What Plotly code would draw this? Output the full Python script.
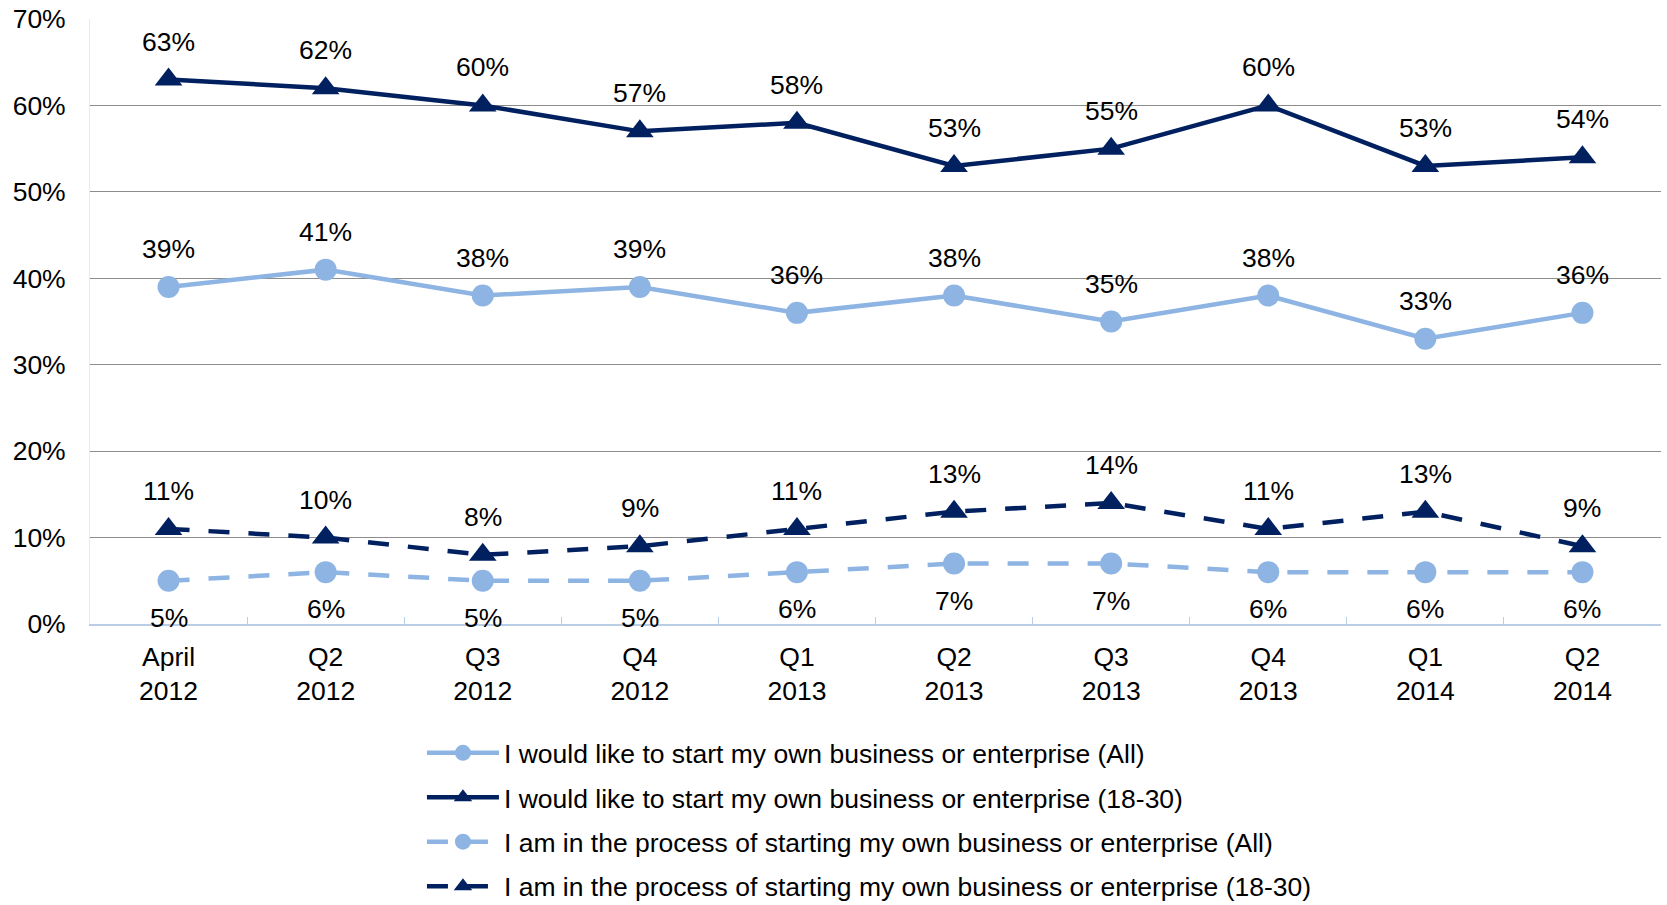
import plotly.graph_objects as go

categories = ["April<br>2012", "Q2<br>2012", "Q3<br>2012", "Q4<br>2012", "Q1<br>2013",
              "Q2<br>2013", "Q3<br>2013", "Q4<br>2013", "Q1<br>2014", "Q2<br>2014"]
like_all = [39, 41, 38, 39, 36, 38, 35, 38, 33, 36]
like_1830 = [63, 62, 60, 57, 58, 53, 55, 60, 53, 54]
process_all = [5, 6, 5, 5, 6, 7, 7, 6, 6, 6]
process_1830 = [11, 10, 8, 9, 11, 13, 14, 11, 13, 9]

names = [
    "I would like to start my own business or enterprise (All)",
    "I would like to start my own business or enterprise (18-30)",
    "I am in the process of starting my own business or enterprise (All)",
    "I am in the process of starting my own business or enterprise (18-30)",
]

LIGHT = "#8DB4E2"
DARK = "#002060"
FONT = "Liberation Sans, Arial, sans-serif"
FS = 26.5
DASH = "21px,19px"

series = [
    (like_all, names[0], LIGHT, "solid", "circle", 22, 38),
    (like_1830, names[1], DARK, "solid", "triangle-up", 24, 38),
    (process_all, names[2], LIGHT, DASH, "circle", 22, -37),
    (process_1830, names[3], DARK, DASH, "triangle-up", 24, 38),
]

fig = go.Figure()
annotations = []
for i, (vals, name, color, dash, sym, msize, shift) in enumerate(series):
    fig.add_trace(go.Scatter(
        x=categories, y=vals, name=name, mode="lines+markers",
        line=dict(color=color, width=4.5, dash=dash),
        marker=dict(symbol=sym, size=msize, color=color),
        legendgroup=f"g{i}",
    ))
    for c, v in zip(categories, vals):
        annotations.append(dict(
            x=c, y=v, xref="x", yref="y", text=f"{v}%", showarrow=False,
            yshift=shift, font=dict(family=FONT, size=FS, color="#000000"),
        ))

fig.update_layout(
    width=1667, height=905,
    margin=dict(l=90, r=6, t=19, b=281, autoexpand=False),
    plot_bgcolor="white", paper_bgcolor="white",
    font=dict(family=FONT, size=FS, color="#000000"),
    annotations=annotations,
    showlegend=True,
    legend=dict(
        orientation="v", x=0.2113, xanchor="left",
        yref="container", y=0.1944, yanchor="top",
        font=dict(family=FONT, size=FS, color="#000000"),
        traceorder="grouped", tracegroupgap=7, itemwidth=72,
        bgcolor="rgba(0,0,0,0)",
    ),
)
fig.update_xaxes(
    type="category", range=[-0.5, 9.5], automargin=False,
    showline=True, linecolor="#B9CDE5", linewidth=2,
    ticks="inside", tickson="boundaries", ticklen=7, tickcolor="#B9CDE5",
    showgrid=False, ticklabelstandoff=8,
    tickfont=dict(family=FONT, size=FS, color="#000000"),
)
fig.update_yaxes(
    range=[0, 70], dtick=10, ticksuffix="%", automargin=False,
    showgrid=True, gridcolor="#8C8C8C", gridwidth=1,
    showline=True, linecolor="#FCE4D6", linewidth=1,
    zeroline=False, ticks="", ticklabelstandoff=18,
    tickfont=dict(family=FONT, size=FS, color="#000000"),
)

fig.write_html(
    "out.html",
    config={"displayModeBar": False},
    post_script="document.body.style.margin='0';document.body.style.overflow='hidden';",
)
